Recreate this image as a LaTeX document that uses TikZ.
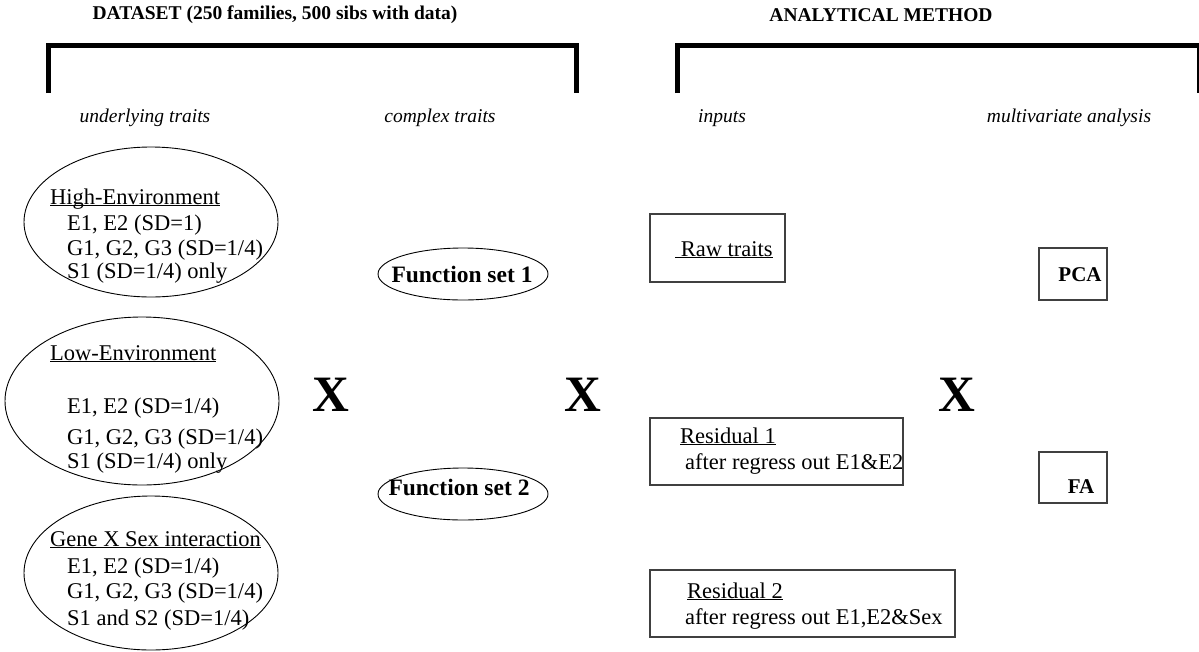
\documentclass[tikz,border=0pt]{standalone}
\usepackage{fontspec}
\setmainfont{Liberation Serif}
\usetikzlibrary{shapes.geometric}
% underline that sits just under the baseline, ignoring descenders
\newcommand\ulbase[1]{\underline{\smash{#1}}}

\begin{document}
\begin{tikzpicture}[x=1pt,y=-1pt,
  ell/.style={draw, ellipse, line width=0.9pt, inner sep=0pt},
  box/.style={draw=black!75, line width=1.3pt, rectangle, inner sep=0pt},
  body/.style={font=\fontsize{22.5}{25}\selectfont, anchor=base west, inner sep=0pt},
  head/.style={font=\fontsize{19.5}{22}\selectfont\bfseries, inner sep=0pt},
  col/.style={font=\fontsize{19.5}{22}\selectfont\itshape, inner sep=0pt},
  cross/.style={font=\fontsize{51}{51}\selectfont\bfseries, inner sep=0pt},
  fn/.style={font=\fontsize{23.5}{25}\selectfont\bfseries, inner sep=0pt},
  meth/.style={font=\fontsize{21}{24}\selectfont\bfseries, inner sep=0pt},
  bracket/.style={line width=5pt}]
\useasboundingbox (0,0) rectangle (1199,651);

% section titles and their brackets
\node[head] (tdata) at (275,15) {DATASET (250 families, 500 sibs with data)};
\node[head] (tmeth) at (881,15) {ANALYTICAL METHOD};
\draw[bracket] (48,93) -- (48,45) -- (576,45) -- (576,93);
\draw[bracket] (677,93) -- (677,45) -- (1199,45) -- (1199,93);

% column headings
\node[col] (cunder) at (145,118) {underlying traits};
\node[col] (ccompl) at (440,118) {complex traits};
\node[col] (cinput) at (722,118) {inputs};
\node[col] (cmulti) at (1069,118) {multivariate analysis};

% underlying trait scenarios
\node[ell, minimum width=254, minimum height=150] (high) at (151,222) {};
\node[body] (highT) at (50,204) {\ulbase{High-Environment}};
\node[body] (highE) at (67,230) {E1, E2 (SD=1)};
\node[body] (highG) at (67,255) {G1, G2, G3 (SD=1/4)};
\node[body] (highS) at (67,278) {S1 (SD=1/4) only};

\node[ell, minimum width=274, minimum height=168] (low) at (142,401) {};
\node[body] (lowT) at (50,360) {\ulbase{Low-Environment}};
\node[body] (lowE) at (67,413) {E1, E2 (SD=1/4)};
\node[body] (lowG) at (67,444) {G1, G2, G3 (SD=1/4)};
\node[body] (lowS) at (67,468) {S1 (SD=1/4) only};

\node[ell, minimum width=254, minimum height=154] (gxs) at (151,573) {};
\node[body] (gxsT) at (50,546) {\ulbase{Gene X Sex interaction}};
\node[body] (gxsE) at (67,573) {E1, E2 (SD=1/4)};
\node[body] (gxsG) at (67,598) {G1, G2, G3 (SD=1/4)};
\node[body] (gxsS) at (67,625) {S1 and S2 (SD=1/4)};

% complex trait function sets
\node[ell, minimum width=170, minimum height=52] (fs1) at (463,274) {};
\node[fn] (fs1T) at (462,274) {Function set 1};
\node[ell, minimum width=170, minimum height=52] (fs2) at (463,494) {};
\node[fn] (fs2T) at (459,487) {Function set 2};

% crossing symbols
\node[cross] (x1) at (331,395) {X};
\node[cross] (x2) at (583,395) {X};
\node[cross] (x3) at (957,395) {X};

% analysis inputs
\node[box, minimum width=135, minimum height=68] (raw) at (717.5,248) {};
\node[body] (rawT) at (675,256) {\ulbase{\ Raw traits}};

\node[box, minimum width=253, minimum height=67] (res1) at (776.5,451.5) {};
\node[body] (res1T) at (680,443) {\ulbase{Residual 1}};
\node[body] (res1S) at (685,469) {after regress out E1\&E2};

\node[box, minimum width=305, minimum height=67] (res2) at (802.5,603.5) {};
\node[body] (res2T) at (687,598) {\ulbase{Residual 2}};
\node[body] (res2S) at (685,624) {after regress out E1,E2\&Sex};

% multivariate methods
\node[box, minimum width=68, minimum height=52] (pca) at (1073,274) {};
\node[meth] (pcaT) at (1080,275) {PCA};
\node[box, minimum width=68, minimum height=51] (fa) at (1073,477.5) {};
\node[meth] (faT) at (1081,487) {FA};
\end{tikzpicture}
\end{document}
